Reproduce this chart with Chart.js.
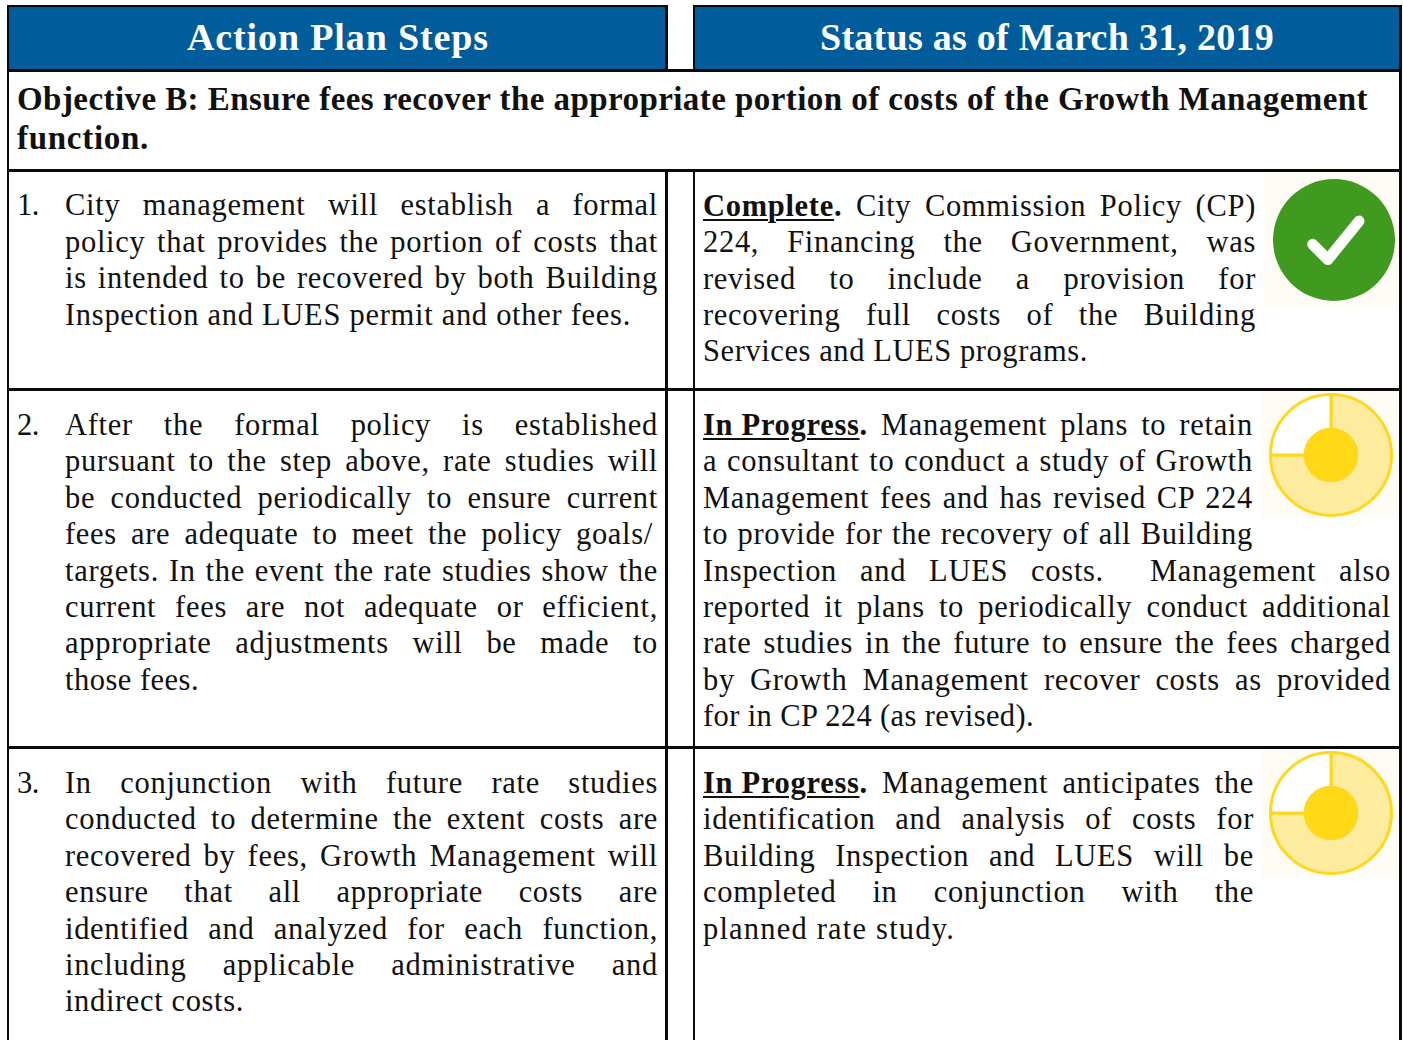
<!DOCTYPE html>
<html>
<head>
<meta charset="utf-8">
<title>Action Plan Steps</title>
<script src="https://cdn.jsdelivr.net/npm/chart.js@4"></script>
<style>
    html, body { margin: 0; padding: 0; background: #fff; }
    #page { position: relative; width: 1403px; height: 1040px; overflow: hidden; font-family: "Liberation Serif", serif; color: #111; }
    .rule { position: absolute; background: #0a0a0a; }
    .head { position: absolute; background: #005c9a; }
    .line { position: absolute; white-space: nowrap; display: inline-block; font-size: 30.5px; line-height: 36px; }
    .line.bold { font-weight: bold; font-size: 33px; }
    .line.title { font-weight: bold; font-size: 38px; color: #fff; line-height: 44px; }
    .line u { text-underline-offset: 3px; text-decoration-thickness: 2px; }
    .line b { display: inline-block; white-space: nowrap; }
    .icon { position: absolute; background: #fffcf6; }
    .icon canvas { position: absolute; }
</style>
</head>
<body>
<div id="page"></div>
<script>
// Status icon values
const completeValues = [100];
const progressValues = [75, 25];
const progressDot = [100];

// Table text, one entry per printed line: text, left, right, middle y, justified or not
const headerLines = [
    ['Action Plan Steps', 187, 489, 37, 0],
    ['Status as of March 31, 2019', 820, 1274, 37, 0]
];
const objectiveLines = [
    ['Objective B: Ensure fees recover the appropriate portion of costs of the Growth Management', 17, 1368, 99, 0],
    ['function.', 17, 149, 138, 0]
];
const stepLines = [
    ['1.', 17, 39, 205, 0],
    ['City management will establish a formal', 65, 658, 205, 1],
    ['policy that provides the portion of costs that', 65, 658, 242, 1],
    ['is intended to be recovered by both Building', 65, 658, 278, 1],
    ['Inspection and LUES permit and other fees.', 65, 631, 315, 0],
    ['2.', 17, 39, 425, 0],
    ['After the formal policy is established', 65, 658, 425, 1],
    ['pursuant to the step above, rate studies will', 65, 658, 461, 1],
    ['be conducted periodically to ensure current', 65, 658, 498, 1],
    ['fees are adequate to meet the policy goals/', 65, 653, 534, 1],
    ['targets. In the event the rate studies show the', 65, 658, 571, 1],
    ['current fees are not adequate or efficient,', 65, 658, 607, 1],
    ['appropriate adjustments will be made to', 65, 658, 643, 1],
    ['those fees.', 65, 199, 680, 0],
    ['3.', 17, 39, 783, 0],
    ['In conjunction with future rate studies', 65, 658, 783, 1],
    ['conducted to determine the extent costs are', 65, 658, 819, 1],
    ['recovered by fees, Growth Management will', 65, 658, 856, 1],
    ['ensure that all appropriate costs are', 65, 658, 892, 1],
    ['identified and analyzed for each function,', 65, 658, 929, 1],
    ['including applicable administrative and', 65, 658, 965, 1],
    ['indirect costs.', 65, 244, 1001, 0]
];
const statusLines = [
    ['<b><u>Complete</u>.</b> City Commission Policy (CP)', 703, 1256, 206, 1],
    ['224, Financing the Government, was', 703, 1256, 242, 1],
    ['revised to include a provision for', 703, 1256, 279, 1],
    ['recovering full costs of the Building', 703, 1256, 315, 1],
    ['Services and LUES programs.', 703, 1088, 351, 0],
    ['<b><u>In Progress</u>.</b> Management plans to retain', 703, 1253, 425, 1],
    ['a consultant to conduct a study of Growth', 703, 1253, 461, 1],
    ['Management fees and has revised CP 224', 703, 1253, 498, 1],
    ['to provide for the recovery of all Building', 703, 1253, 534, 1],
    ['Inspection and LUES costs.&nbsp; Management also', 703, 1391, 571, 1],
    ['reported it plans to periodically conduct additional', 703, 1391, 607, 1],
    ['rate studies in the future to ensure the fees charged', 703, 1391, 643, 1],
    ['by Growth Management recover costs as provided', 703, 1391, 680, 1],
    ['for in CP 224 (as revised).', 703, 1034, 716, 0],
    ['<b><u>In Progress</u>.</b> Management anticipates the', 703, 1254, 783, 1],
    ['identification and analysis of costs for', 703, 1254, 819, 1],
    ['Building Inspection and LUES will be', 703, 1254, 856, 1],
    ['completed in conjunction with the', 703, 1254, 892, 1],
    ['planned rate study.', 703, 955, 929, 0]
];

const page = document.getElementById('page');

function addBox(cls, x, y, w, h) {
    const el = document.createElement('div');
    el.className = cls;
    el.style.cssText = `left:${x}px;top:${y}px;width:${w}px;height:${h}px`;
    page.appendChild(el);
    return el;
}

// Header fills first, rules on top
addBox('head', 8, 7, 659, 63);
addBox('head', 694, 7, 706, 63);
[
    [7, 5, 661, 2], [693, 5, 708, 2],
    [7, 69, 1394, 3], [7, 169, 1394, 3], [7, 388, 1394, 3], [7, 746, 1394, 3],
    [7, 5, 2, 1035], [1399, 5, 3, 1035],
    [665, 5, 3, 67], [693, 5, 2, 67],
    [665, 170, 3, 870], [693, 170, 2, 870]
].forEach(r => addBox('rule', r[0], r[1], r[2], r[3]));

function addLines(lines, cls) {
    lines.forEach(([text, x0, x1, y, justified]) => {
        const el = document.createElement('div');
        el.className = 'line ' + cls;
        el.innerHTML = text;
        page.appendChild(el);
        const target = x1 - x0;
        const natural = el.getBoundingClientRect().width;
        const chars = el.textContent.length;
        el.style.left = x0 + 'px';
        el.style.top = (y - el.offsetHeight / 2) + 'px';
        if (justified) {
            // a little tracking, the rest of the slack goes to the word gaps
            el.style.letterSpacing = Math.min(0.7, Math.max(0, (target - natural) / chars)) + 'px';
            el.style.width = target + 'px';
            el.style.whiteSpace = 'normal';
            el.style.textAlignLast = 'justify';
        } else {
            el.style.letterSpacing = ((target - natural) / chars) + 'px';
        }
    });
}

addLines(headerLines, 'title');
addLines(objectiveLines, 'bold');
addLines(stepLines, '');
addLines(statusLines, '');

// Tick mark for the complete icon, scaled off the chart area
const checkMark = {
    id: 'checkMark',
    afterDraw(chart) {
        const { ctx, chartArea } = chart;
        const cx = (chartArea.left + chartArea.right) / 2;
        const cy = (chartArea.top + chartArea.bottom) / 2;
        const r = chartArea.width / 2;
        ctx.save();
        ctx.strokeStyle = '#fff';
        ctx.lineWidth = r * 0.18;
        ctx.lineCap = 'round';
        ctx.lineJoin = 'round';
        ctx.beginPath();
        ctx.moveTo(cx - r * 0.35, cy + r * 0.07);
        ctx.lineTo(cx - r * 0.1, cy + r * 0.32);
        ctx.lineTo(cx + r * 0.41, cy - r * 0.31);
        ctx.stroke();
        ctx.restore();
    }
};

function addIcon(x, y, w, h, size, cx, cy, datasets, plugins) {
    const box = addBox('icon', x, y, w, h);
    const canvas = document.createElement('canvas');
    canvas.width = size;
    canvas.height = size;
    canvas.style.left = (cx - size / 2 - x) + 'px';
    canvas.style.top = (cy - size / 2 - y) + 'px';
    box.appendChild(canvas);
    new Chart(canvas, {
        type: 'doughnut',
        data: { datasets: datasets },
        options: {
            responsive: false,
            animation: false,
            cutout: 0,
            events: [],
            plugins: { legend: { display: false }, tooltip: { enabled: false } }
        },
        plugins: plugins || []
    });
}

function progressDatasets() {
    return [
        {
            data: progressValues,
            backgroundColor: ['#fdeb9e', '#ffffff'],
            borderColor: '#ffd71e',
            borderWidth: 3,
            weight: 35
        },
        {
            data: progressDot,
            backgroundColor: '#ffd916',
            borderColor: '#ffd916',
            borderWidth: 0,
            weight: 26
        }
    ];
}

addIcon(1265, 172, 134, 136, 122, 1334, 240, [{
    data: completeValues,
    backgroundColor: '#3f9a1f',
    borderWidth: 0
}], [checkMark]);
addIcon(1261, 391, 138, 127, 124, 1331, 455, progressDatasets());
addIcon(1261, 749, 138, 127, 124, 1331, 813, progressDatasets());
</script>
</body>
</html>
